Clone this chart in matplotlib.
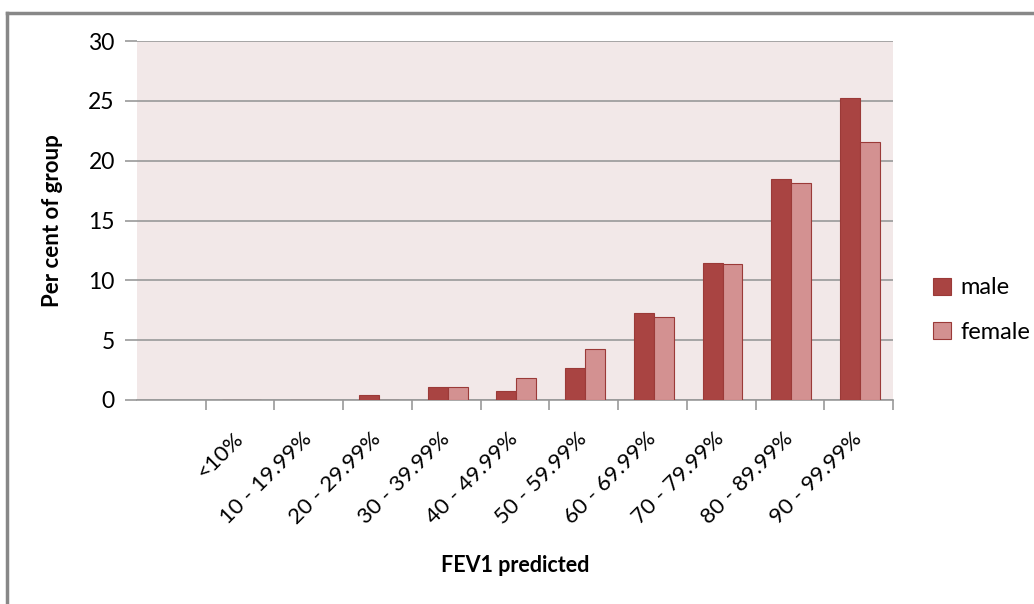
import matplotlib.pyplot as plt
import numpy as np
from matplotlib.lines import Line2D

plt.rcParams['font.family'] = ['Lato', 'DejaVu Sans']

categories = ['<10%', '10 - 19.99%', '20 - 29.99%', '30 - 39.99%', '40 - 49.99%',
              '50 - 59.99%', '60 - 69.99%', '70 - 79.99%', '80 - 89.99%', '90 - 99.99%']
male = [0, 0, 0.42, 1.05, 0.75, 2.67, 7.27, 11.45, 18.5, 25.2]
female = [0, 0, 0, 1.05, 1.84, 4.26, 6.96, 11.33, 18.1, 21.6]

male_color = '#a94442'
female_color = '#d39191'
edge_color = '#9b3a38'
grid_color = '#999999'

fig = plt.figure(figsize=(10.34, 6.04), dpi=100)
ax = fig.add_axes([137 / 1034, 1 - 400 / 604, 756 / 1034, 359 / 604])
ax.set_facecolor('#f2e8e8')

x = np.arange(len(categories))
w = 0.29
ax.bar(x - w / 2 + 0.02, male, w, color=male_color, edgecolor=edge_color,
       linewidth=0.8, label='male', zorder=3)
ax.bar(x + w / 2 + 0.02, female, w, color=female_color, edgecolor=edge_color,
       linewidth=0.8, label='female', zorder=3)

# first slot left empty, as in the source workbook
ax.set_xlim(-1.5, len(categories) - 0.5)
ax.set_ylim(0, 30)
ax.set_yticks(range(0, 31, 5))
ax.yaxis.grid(True, color=grid_color, linewidth=1.2, zorder=1)
ax.tick_params(axis='y', length=9, width=1.2, color=grid_color, labelsize=16.5, pad=7)

ax.set_xticks(x)
ax.set_xticklabels(categories, rotation=45, ha='right', va='center',
                   rotation_mode='anchor', fontsize=16)
ax.tick_params(axis='x', which='major', length=0, pad=26)
ax.set_xticks(np.arange(-0.5, len(categories)), minor=True)
ax.tick_params(axis='x', which='minor', length=7, width=1.2, color=grid_color)

for s in ['top', 'right', 'left']:
    ax.spines[s].set_visible(False)
ax.spines['bottom'].set_color(grid_color)
ax.spines['bottom'].set_linewidth(1.2)

ax.set_ylabel('Per cent of group', fontsize=16, fontweight='bold', labelpad=18)
fig.text(515 / 1034, 1 - 566 / 604, 'FEV1 predicted', fontsize=15.5, fontweight='bold',
         ha='center', va='center')

ax.legend(loc='center left', bbox_to_anchor=(1.025, 0.25), frameon=False, fontsize=17,
          handlelength=0.75, handleheight=0.75, labelspacing=1.0, handletextpad=0.4)

# outer chart frame
fig.add_artist(Line2D([7 / 1034, 7 / 1034], [0, 1 - 13 / 604], color='#888888', linewidth=2.5))
fig.add_artist(Line2D([7 / 1034, 1], [1 - 13 / 604, 1 - 13 / 604], color='#888888', linewidth=2.5))

fig.savefig('out.png', dpi=100)
